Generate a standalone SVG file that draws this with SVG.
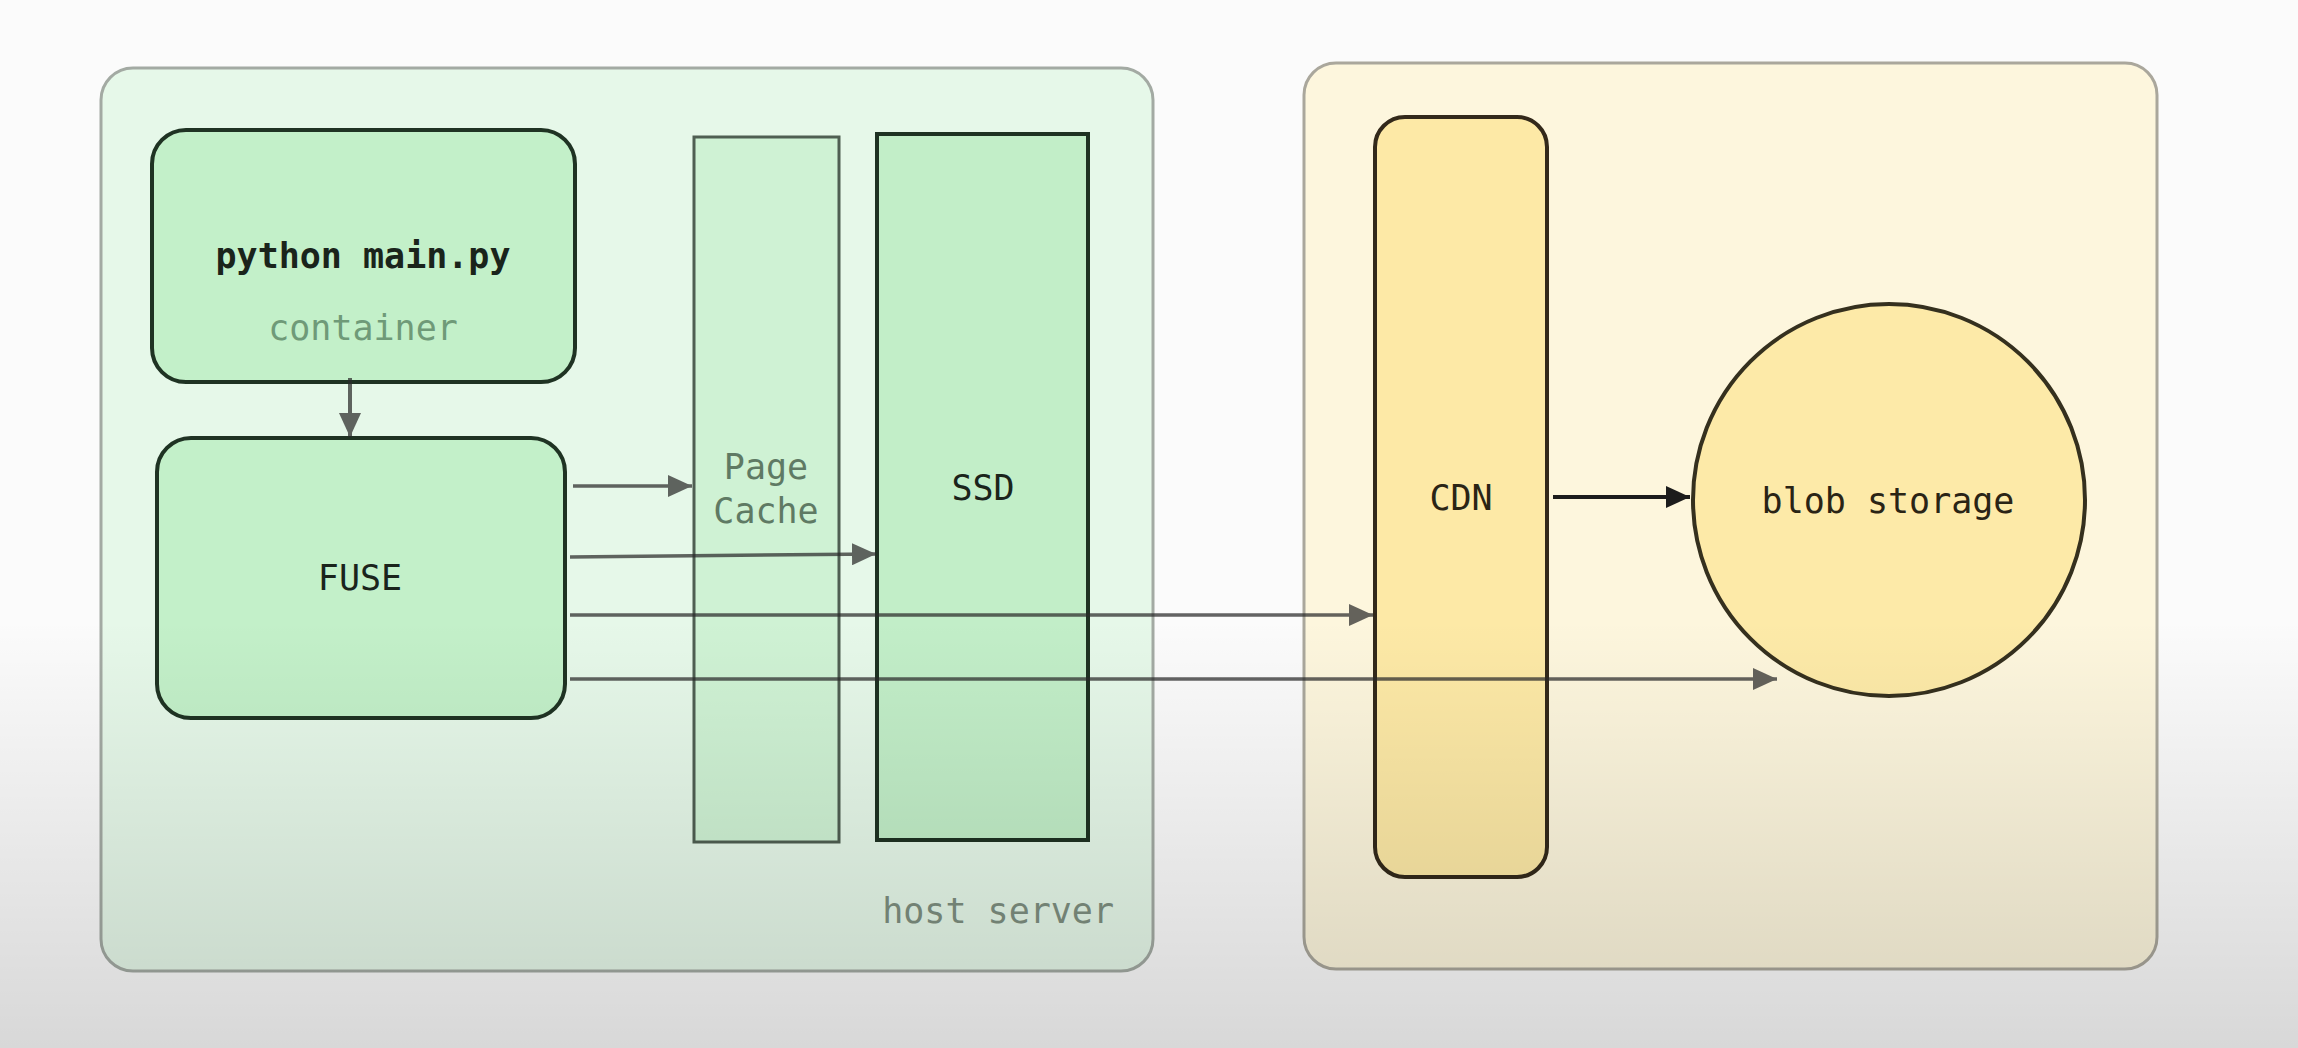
<svg xmlns="http://www.w3.org/2000/svg" width="2298" height="1048" viewBox="0 0 2298 1048">
  <defs>
    <linearGradient id="shade" x1="0" y1="0" x2="0" y2="1">
      <stop offset="0" stop-color="#000" stop-opacity="0"/>
      <stop offset="1" stop-color="#000" stop-opacity="0.14"/>
    </linearGradient>
    <marker id="ah" viewBox="0 0 24 22" refX="24" refY="11" markerWidth="24" markerHeight="22" markerUnits="userSpaceOnUse" orient="auto">
      <path d="M0,0 L24,11 L0,22 Z" fill="#2a2a2a"/>
    </marker>
    <marker id="ahDark" viewBox="0 0 24 22" refX="24" refY="11" markerWidth="24" markerHeight="22" markerUnits="userSpaceOnUse" orient="auto">
      <path d="M0,0 L24,11 L0,22 Z" fill="#1c1c1c"/>
    </marker>
  </defs>
  <style>
    .lbl { font-family: "DejaVu Sans Mono", "Liberation Mono", monospace; font-size: 35px; text-anchor: middle; }
    .dark { fill: #1a241b; }
    .darkY { fill: #2a2415; }
    .muted { fill: #6f9a78; }
    .hint { fill: #7e8f80; }
    .conn { fill: none; stroke: #2a2a2a; stroke-width: 3.5; opacity: 0.72; marker-end: url(#ah); }
    .conn-dark { fill: none; stroke: #1c1c1c; stroke-width: 4; marker-end: url(#ahDark); }
  </style>

  <rect x="0" y="0" width="2298" height="1048" fill="#fbfbfb"/>

  <g id="host-server">
    <rect x="101" y="68" width="1052" height="903" rx="32" fill="#e6f8e9" stroke="#a3aaa3" stroke-width="3"/>
    <text class="lbl hint" x="1114" y="923" style="text-anchor:end">host server</text>
  </g>

  <g id="remote">
    <rect x="1304" y="63" width="853" height="906" rx="32" fill="#fdf6dd" stroke="#aaa79c" stroke-width="3"/>
  </g>

  <g id="container">
    <rect x="152" y="130" width="423" height="252" rx="34" fill="#c3f0c9" stroke="#1f3323" stroke-width="4"/>
    <text class="lbl dark" x="363" y="268" font-weight="bold">python main.py</text>
    <text class="lbl muted" x="363" y="340">container</text>
  </g>

  <g id="fuse">
    <rect x="157" y="438" width="408" height="280" rx="34" fill="#c3f0c9" stroke="#1f3323" stroke-width="4"/>
    <text class="lbl dark" x="360" y="590">FUSE</text>
  </g>

  <g id="page-cache">
    <rect x="694" y="137" width="145" height="705" fill="#cff2d4" stroke="#4f5f52" stroke-width="3"/>
    <text class="lbl" x="766" y="479" fill="#5f7a64">Page</text>
    <text class="lbl" x="766" y="523" fill="#5f7a64">Cache</text>
  </g>

  <g id="ssd">
    <rect x="877" y="134" width="211" height="706" fill="#c2eec8" stroke="#1e3222" stroke-width="4"/>
    <text class="lbl dark" x="983" y="500">SSD</text>
  </g>

  <g id="cdn">
    <rect x="1375" y="117" width="172" height="760" rx="30" fill="#fde9a6" stroke="#33291a" stroke-width="4"/>
    <text class="lbl darkY" x="1461" y="510">CDN</text>
  </g>

  <g id="blob-storage">
    <circle cx="1889" cy="500" r="196" fill="#fdeaa8" stroke="#35301e" stroke-width="4"/>
    <text class="lbl darkY" x="1888" y="513">blob storage</text>
  </g>

  <g id="connectors">
    <path class="conn" d="M350,378 L350,437" style="stroke-width:4"/>
    <path class="conn" d="M573,486 L692,486"/>
    <path class="conn" d="M570,557 L876,554"/>
    <path class="conn" d="M570,615 L1373,615"/>
    <path class="conn" d="M570,679 L1777,679"/>
    <path class="conn-dark" d="M1553,497 L1690,497"/>
  </g>

  <rect x="0" y="620" width="2298" height="428" fill="url(#shade)" pointer-events="none"/>
</svg>
